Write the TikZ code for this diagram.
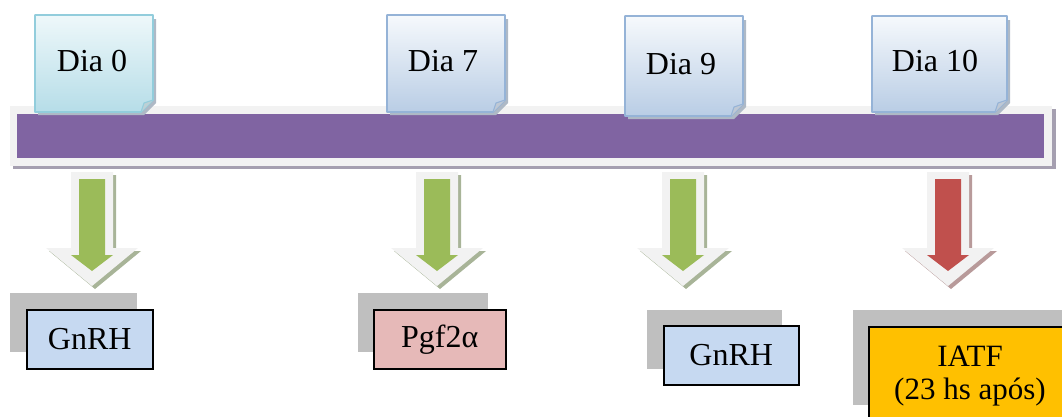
\documentclass[tikz,border=0pt]{standalone}
\usepackage{fontspec}
\setmainfont{Liberation Serif}
\definecolor{barpurple}{HTML}{8064A2}
\definecolor{barframe}{HTML}{F2F2F2}
\definecolor{barshadow}{HTML}{A59FB0}
\definecolor{cyantop}{HTML}{EEF8FA}
\definecolor{cyanbot}{HTML}{B6DDE8}
\definecolor{cyanline}{HTML}{92CDDC}
\definecolor{bluetop}{HTML}{F6F9FC}
\definecolor{bluebot}{HTML}{B9CDE5}
\definecolor{blueline}{HTML}{95B3D7}
\definecolor{boxshadow}{HTML}{9AA8B8}
\definecolor{arrowgreen}{HTML}{9BBB59}
\definecolor{arrowred}{HTML}{C0504D}
\definecolor{arrowoutline}{HTML}{F2F2F2}
\definecolor{greenshadow}{HTML}{A8B498}
\definecolor{redshadow}{HTML}{B89A9A}
\definecolor{greyshadow}{HTML}{BFBFBF}
\definecolor{gnrhblue}{HTML}{C6D9F1}
\definecolor{pgfpink}{HTML}{E6B9B8}
\definecolor{iatforange}{HTML}{FFC000}
\tikzset{
  labeltext/.style={font=\fontsize{32}{33}\selectfont, inner sep=0pt, align=center},
  resultbox/.style={draw=black, line width=1.5pt, font=\fontsize{32}{33}\selectfont, align=center, inner sep=0pt},
}
% day box: #1 left, #2 top, #3 right, #4 bottom, #5 top colour, #6 bottom colour, #7 line colour
\newcommand{\daybox}[7]{%
  \fill[boxshadow!80] (#1+3,#2+4) -- (#3+3,#2+4) -- (#3+3,#4+3-12) -- (#3+3-12,#4+3) -- (#1+3,#4+3) -- cycle;
  \shade[top color=#5, bottom color=#6] (#1,#2) -- (#3,#2) -- (#3,#4-12) -- (#3-12,#4) -- (#1,#4) -- cycle;
  \draw[#7, line width=1.6pt, line join=round] (#1,#2) -- (#3,#2) -- (#3,#4-12) -- (#3-12,#4) -- (#1,#4) -- cycle;
  \fill[#6!80!black!60!white] (#3,#4-12) -- (#3-12,#4) -- (#3-9,#4-9) -- cycle;
  \draw[#7, line width=1pt] (#3,#4-12) -- (#3-9,#4-9) -- (#3-12,#4);
}
% block arrow: #1 centre x, #2 colour, #3 shadow colour
\newcommand{\blockarrow}[3]{%
  \fill[#3] (#1-21+3,172+3) -- (#1+21+3,172+3) -- (#1+21+3,248+3) -- (#1+46+3,248+3) -- (#1+3,286+3) -- (#1-46+3,248+3) -- (#1-21+3,248+3) -- cycle;
  \fill[arrowoutline] (#1-21,172) -- (#1+21,172) -- (#1+21,248) -- (#1+46,248) -- (#1,286) -- (#1-46,248) -- (#1-21,248) -- cycle;
  \fill[#2] (#1-13,179) -- (#1+13,179) -- (#1+13,255) -- (#1+21,255) -- (#1,271) -- (#1-21,255) -- (#1-13,255) -- cycle;
}
\begin{document}
\begin{tikzpicture}[x=1pt, y=-1pt]
\useasboundingbox (0,0) rectangle (1062,416);
\clip (0,0) rectangle (1062,416);
% timeline bar
\fill[barshadow] (13,109) rectangle (1056,169);
\fill[barframe] (10,106) rectangle (1052,166);
\node[fill=barpurple, minimum width=1027pt, minimum height=44pt, inner sep=0pt, anchor=north west] (bar) at (17,114) {};
% day boxes
\daybox{35}{15}{153}{112}{cyantop}{cyanbot}{cyanline}
\node[labeltext] (d0) at (92,61) {Dia 0};
\daybox{387}{15}{505}{112}{bluetop}{bluebot}{blueline}
\node[labeltext] (d7) at (443,61) {Dia 7};
\daybox{625}{16}{743}{116}{bluetop}{bluebot}{blueline}
\node[labeltext] (d9) at (681,64) {Dia 9};
\daybox{872}{16}{1007}{112}{bluetop}{bluebot}{blueline}
\node[labeltext] (d10) at (935,61) {Dia 10};
% arrows
\blockarrow{92}{arrowgreen}{greenshadow}
\blockarrow{437}{arrowgreen}{greenshadow}
\blockarrow{683}{arrowgreen}{greenshadow}
\blockarrow{948}{arrowred}{redshadow}
% result boxes
\fill[greyshadow] (10,293) rectangle (137,352);
\node[resultbox, fill=gnrhblue, minimum width=126pt, minimum height=59pt, anchor=north west] (g1) at (26,309) {GnRH};
\fill[greyshadow] (358,293) rectangle (488,352);
\node[resultbox, fill=pgfpink, minimum width=132pt, minimum height=59pt, anchor=north west] (pgf) at (373,309) {Pgf2α};
\fill[greyshadow] (647,310) rectangle (782,369);
\node[resultbox, fill=gnrhblue, minimum width=135pt, minimum height=59pt, anchor=north west] (g2) at (663,325) {GnRH};
\fill[greyshadow] (853,310) rectangle (1070,405);
\node[resultbox, fill=iatforange, minimum width=220pt, minimum height=104pt, anchor=north west] (iatf) at (868,326) {};
\node[labeltext, font=\fontsize{31}{33}\selectfont] (iatftext) at (970,376) {IATF\\(23 hs após)};
\end{tikzpicture}
\end{document}
